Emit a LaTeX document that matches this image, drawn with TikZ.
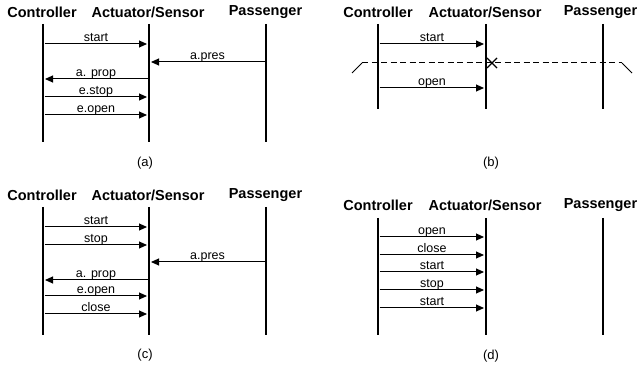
\documentclass[tikz,border=0pt]{standalone}
\usepackage{fontspec}
\setmainfont{Liberation Sans}
\usepackage{tikz}
\usetikzlibrary{arrows.meta}

\tikzset{
  head/.style={font=\fontsize{14.5}{16}\selectfont\bfseries, inner sep=0pt},
  life/.style={line width=1.3pt},
  msg/.style={line width=1pt, -{Triangle[length=8pt,width=7pt]}, shorten >=2pt, shorten <=1.5pt},
  lbl/.style={midway, anchor=base, yshift=2pt, inner sep=0pt, font=\fontsize{12.5}{14}\selectfont},
  capt/.style={font=\fontsize{13}{15}\selectfont},
  cut/.style={line width=1pt, dash pattern=on 6pt off 3.5pt}
}

\begin{document}
\begin{tikzpicture}[x=1pt,y=-1pt]
    \useasboundingbox [fill=white] (0,0) rectangle (641,366);

    % (a)
    \node[head] (hCtlA) at (42,12) {Controller};
    \node[head] (hActA) at (148,12) {Actuator/Sensor};
    \node[head] (hPasA) at (265.5,12) {Passenger};
    \coordinate (ctlA) at (43,24);
    \coordinate (actA) at (149,24);
    \coordinate (pasA) at (266,24);
    \foreach \n in {ctlA,actA,pasA}
      \draw[life] (\n) -- (\n |- 0,142);
    \foreach \y/\t in {44/start, 97/e.stop, 115/e.open}
      \draw[msg] (ctlA |- 0,\y) -- (actA |- 0,\y) node[lbl] {\t};
    \draw[msg] (pasA |- 0,62) -- (actA |- 0,62) node[lbl] {a.pres};
    \draw[msg] (actA |- 0,79) -- (ctlA |- 0,79) node[lbl] {a. prop};
    \node[capt] (capA) at (145,163) {(a)};

    % (b)
    \node[head] (hCtlB) at (378,12) {Controller};
    \node[head] (hActB) at (485,12) {Actuator/Sensor};
    \node[head] (hPasB) at (600.5,12) {Passenger};
    \coordinate (ctlB) at (378,24);
    \coordinate (actB) at (486,24);
    \coordinate (pasB) at (603,24);
    \foreach \n in {ctlB,actB,pasB}
      \draw[life] (\n) -- (\n |- 0,109);
    \foreach \y/\t in {44/start, 88/open}
      \draw[msg] (ctlB |- 0,\y) -- (actB |- 0,\y) node[lbl] {\t};
    \coordinate (cutL) at (362,63);
    \coordinate (cutR) at (622,63);
    \draw[cut] (cutL) -- (cutR);
    \draw[line width=1pt] (cutL) -- ++(-10,10);
    \draw[line width=1pt] (cutR) -- ++(10,10);
    \draw[line width=1.3pt] (492,63) +(-5,-5) -- +(5,5) +(-5,5) -- +(5,-5);
    \node[capt] (capB) at (491,163) {(b)};

    % (c)
    \node[head] (hCtlC) at (42,195) {Controller};
    \node[head] (hActC) at (148,195) {Actuator/Sensor};
    \node[head] (hPasC) at (265.5,195) {Passenger};
    \coordinate (ctlC) at (43,207);
    \coordinate (actC) at (149,207);
    \coordinate (pasC) at (266,207);
    \foreach \n in {ctlC,actC,pasC}
      \draw[life] (\n) -- (\n |- 0,335);
    \foreach \y/\t in {227/start, 245/stop, 296/e.open, 314/close}
      \draw[msg] (ctlC |- 0,\y) -- (actC |- 0,\y) node[lbl] {\t};
    \draw[msg] (pasC |- 0,262) -- (actC |- 0,262) node[lbl] {a.pres};
    \draw[msg] (actC |- 0,280) -- (ctlC |- 0,280) node[lbl] {a. prop};
    \node[capt] (capC) at (145,355) {(c)};

    % (d)
    \node[head] (hCtlD) at (378,205) {Controller};
    \node[head] (hActD) at (485,205) {Actuator/Sensor};
    \node[head] (hPasD) at (600.5,205) {Passenger};
    \coordinate (ctlD) at (378,218);
    \coordinate (actD) at (486,218);
    \coordinate (pasD) at (603,218);
    \foreach \n in {ctlD,actD,pasD}
      \draw[life] (\n) -- (\n |- 0,335);
    \foreach \y/\t in {237/open, 255/close, 272/start, 290/stop, 308/start}
      \draw[msg] (ctlD |- 0,\y) -- (actD |- 0,\y) node[lbl] {\t};
    \node[capt] (capD) at (491,356) {(d)};
\end{tikzpicture}
\end{document}
